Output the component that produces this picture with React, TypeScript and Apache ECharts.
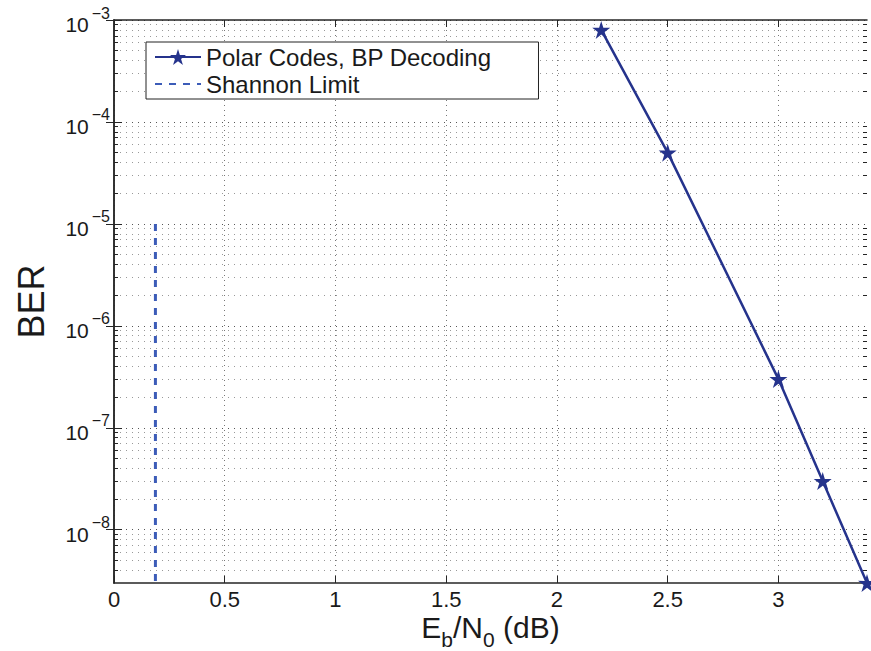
import React, { useEffect, useRef } from 'react';
import * as echarts from 'echarts';

// ---- data ----
const polarEbN0 = [2.2, 2.5, 3.0, 3.2, 3.4];
const polarBER = [8e-4, 5e-5, 3e-7, 3e-8, 3e-9];
const shannonEbN0 = [0.187, 0.187];
const shannonBER = [1e-5, 3e-9];
const xTickValues = [0, 0.5, 1, 1.5, 2, 2.5, 3];
const yMajorTicks = [1e-8, 1e-7, 1e-6, 1e-5, 1e-4, 1e-3];
const yMinorMultipliers = [2, 3, 4, 5, 6, 7, 8, 9];
const yDecades = [-9, -8, -7, -6, -5, -4];
const xMin = 0;
const xMax = 3.4;
const yMin = 3e-9;
const yMax = 1e-3;
const seriesNames = ['Polar Codes, BP Decoding', 'Shannon Limit'];

const yMinorTicks: number[] = [];
yDecades.forEach((d) => {
  yMinorMultipliers.forEach((m) => {
    const v = Number((m * Math.pow(10, d)).toPrecision(3));
    if (v > yMin * 1.001 && v < yMax) yMinorTicks.push(v);
  });
});

const FONT = '"Liberation Sans", Arial, Helvetica, sans-serif';
const TXT = '#1a1a1a';
const AX = '#262626';
const STAR =
  'path://M50,0L61.2,34.6L97.6,34.5L68.1,55.9L79.4,90.5L50,69L20.6,90.5L31.9,55.9L2.4,34.5L38.8,34.6Z';

export default function App() {
  const ref = useRef<HTMLDivElement>(null);
  useEffect(() => {
    if (!ref.current) return;
    const chart = echarts.init(ref.current, undefined, { renderer: 'svg' });
    const yBase = {
      type: 'log' as const,
      logBase: 10,
      min: yMin,
      max: yMax,
    };
    chart.setOption({
      animation: false,
      backgroundColor: '#ffffff',
      grid: {
        left: 114,
        right: 4,
        top: 20,
        bottom: 68,
        containLabel: false,
        outerBoundsMode: 'none',
      },
      legend: {
        left: 146,
        top: 42,
        orient: 'vertical',
        data: seriesNames,
        backgroundColor: '#ffffff',
        borderColor: '#222',
        borderWidth: 1,
        borderRadius: 0,
        padding: [3, 47, 3, 8],
        itemWidth: 46,
        itemHeight: 20,
        itemGap: 3,
        textStyle: { fontSize: 24, fontFamily: FONT, color: TXT },
        selectedMode: false,
      },
      xAxis: [
        {
          type: 'value',
          min: xMin,
          max: xMax,
          position: 'bottom',
          name: '{n|E}{s|b}{n|/N}{s|0}{n| (dB)}',
          nameLocation: 'middle',
          nameGap: 29,
          nameMoveOverlap: false,
          nameTextStyle: {
            fontFamily: FONT,
            color: TXT,
            verticalAlign: 'top',
            rich: {
              n: { fontSize: 30, fontFamily: FONT, color: TXT, verticalAlign: 'top' },
              s: {
                fontSize: 21,
                fontFamily: FONT,
                color: TXT,
                verticalAlign: 'top',
                padding: [17, 0, 0, 0],
              },
            },
          },
          axisLine: { show: true, lineStyle: { color: AX, width: 1.5 } },
          axisTick: {
            show: true,
            inside: true,
            length: 7,
            customValues: xTickValues,
            lineStyle: { color: AX, width: 1 },
          },
          axisLabel: {
            show: true,
            customValues: xTickValues,
            margin: 5,
            fontSize: 22,
            fontFamily: FONT,
            color: TXT,
            formatter: (v: number) => String(v),
          },
          splitLine: {
            show: true,
            lineStyle: { color: '#777', width: 1, type: [1, 4] },
          },
        },
        {
          type: 'value',
          min: xMin,
          max: xMax,
          position: 'top',
          axisLine: { show: true, lineStyle: { color: AX, width: 1.5 } },
          axisTick: {
            show: true,
            inside: true,
            length: 7,
            customValues: xTickValues,
            lineStyle: { color: AX, width: 1 },
          },
          axisLabel: { show: false },
          splitLine: { show: false },
        },
      ],
      yAxis: [
        {
          ...yBase,
          position: 'left',
          name: 'BER',
          nameLocation: 'middle',
          nameRotate: 90,
          nameGap: 65,
          nameMoveOverlap: false,
          nameTextStyle: { fontSize: 36, fontFamily: FONT, color: TXT },
          axisLine: { show: true, lineStyle: { color: AX, width: 1.5 } },
          axisTick: {
            show: true,
            inside: true,
            length: 8,
            customValues: yMajorTicks,
            lineStyle: { color: AX, width: 1 },
          },
          axisLabel: {
            show: true,
            customValues: yMajorTicks,
            margin: 4,
            formatter: (v: number) => {
              const e = Math.round(Math.log10(v));
              return `{b|10}{e|\u2212${-e}}`;
            },
            rich: {
              b: { fontSize: 21, fontFamily: FONT, color: TXT, verticalAlign: 'bottom' },
              e: {
                fontSize: 16,
                fontFamily: FONT,
                color: TXT,
                verticalAlign: 'top',
                padding: [0, 0, 14, 3],
              },
            },
          },
          splitLine: {
            show: true,
            lineStyle: { color: '#555', width: 1, type: [1, 5] },
          },
        },
        {
          ...yBase,
          position: 'right',
          axisLine: { show: true, lineStyle: { color: AX, width: 1.5 } },
          axisTick: {
            show: true,
            inside: true,
            length: 8,
            customValues: yMajorTicks,
            lineStyle: { color: AX, width: 1 },
          },
          axisLabel: { show: false },
          splitLine: { show: false },
        },
        {
          ...yBase,
          position: 'left',
          axisLine: { show: false },
          axisTick: {
            show: true,
            inside: true,
            length: 4,
            customValues: yMinorTicks,
            lineStyle: { color: AX, width: 1 },
          },
          axisLabel: { show: false },
          splitLine: {
            show: true,
            lineStyle: { color: '#999', width: 1, type: [1, 5] },
          },
        },
        {
          ...yBase,
          position: 'right',
          axisLine: { show: false },
          axisTick: {
            show: true,
            inside: true,
            length: 4,
            customValues: yMinorTicks,
            lineStyle: { color: AX, width: 1 },
          },
          axisLabel: { show: false },
          splitLine: { show: false },
        },
      ],
      series: [
        {
          name: seriesNames[0],
          type: 'line',
          xAxisIndex: 0,
          yAxisIndex: 0,
          data: polarEbN0.map((x, i) => [x, polarBER[i]]),
          symbol: STAR,
          symbolSize: 18,
          clip: false,
          lineStyle: { color: '#25338C', width: 2.5 },
          itemStyle: { color: '#25338C' },
          z: 5,
        },
        {
          name: seriesNames[1],
          type: 'line',
          xAxisIndex: 0,
          yAxisIndex: 0,
          data: shannonEbN0.map((x, i) => [x, shannonBER[i]]),
          symbol: 'none',
          lineStyle: { color: '#3C5CB8', width: 3, type: [7, 7] },
          itemStyle: { color: '#3C5CB8', opacity: 0 },
          z: 4,
        },
      ],
    });
    return () => chart.dispose();
  }, []);
  return <div ref={ref} style={{ width: 871, height: 651, position: 'absolute', left: 0, top: 0 }} />;
}
